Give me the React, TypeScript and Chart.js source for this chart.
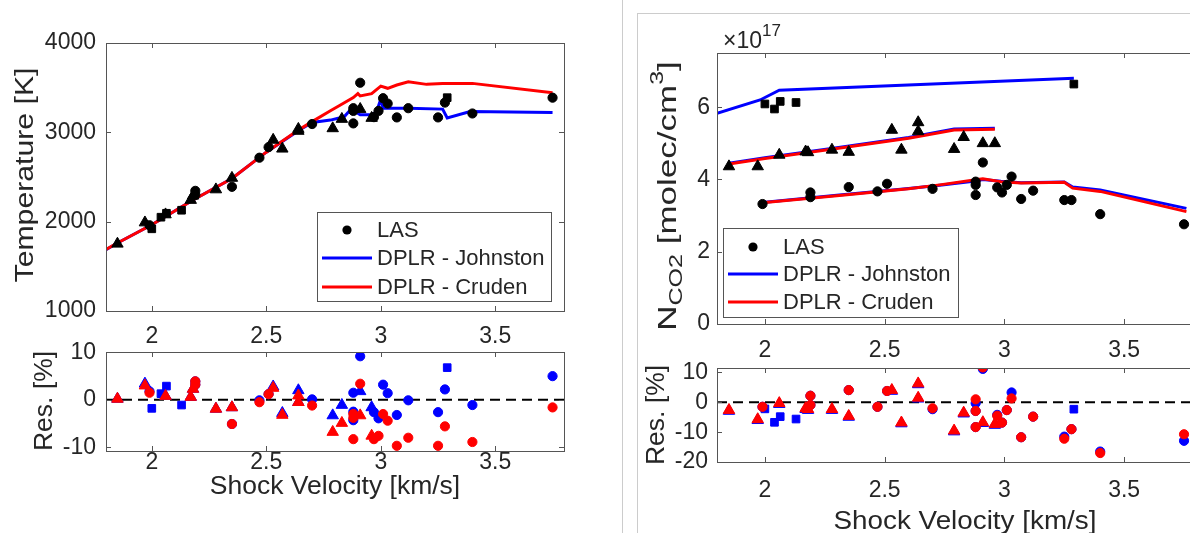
import React, { useEffect, useRef } from "react";
import { Chart, registerables } from "chart.js";
Chart.register(...registerables);

const W = 1210;
const H = 533;
const BLUE = "#0000ff";
const RED = "#ff0000";
const BLACK = "#000000";
const AXIS = "#555555";
const TEXT = "#262626";
const FONT = "'Liberation Sans', Arial, Helvetica, sans-serif";

// ---------- ticks ----------
const xTicks = [2, 2.5, 3, 3.5];
const tempTicks = [1000, 2000, 3000, 4000];
const resTicksLeft = [-10, 0, 10];
const nTicks = [0, 2, 4, 6];
const resTicksRight = [-20, -10, 0, 10];
const legendLabels = ["LAS", "DPLR - Johnston", "DPLR - Cruden"];

// ---------- left: temperature ----------
const circX = [1.99, 2.19, 2.19, 2.35, 2.47, 2.51, 2.70, 2.88, 2.88, 2.88, 2.91, 2.97, 2.99, 3.01, 3.03, 3.07, 3.12, 3.25, 3.28, 3.40, 3.75];
const tCircY = [1960, 2300, 2345, 2390, 2716, 2834, 3093, 3270, 3240, 3100, 3555, 3170, 3240, 3382, 3322, 3167, 3270, 3167, 3333, 3211, 3388];
const triX = [1.85, 1.97, 2.06, 2.17, 2.18, 2.28, 2.35, 2.53, 2.57, 2.64, 2.64, 2.79, 2.83, 2.91, 2.96];
const tTriY = [1752, 1990, 2080, 2242, 2290, 2360, 2489, 2915, 2816, 3037, 3015, 3044, 3149, 3260, 3160];
const sqX = [2.0, 2.04, 2.064, 2.13, 3.29];
const tSqY = [1920, 2050, 2094, 2128, 3388];

const tJohnX = [1.8, 1.85, 2.0, 2.18, 2.35, 2.5, 2.64, 2.70, 2.78, 2.84, 2.87, 2.91, 2.955, 2.98, 3.0, 3.01, 3.12, 3.27, 3.29, 3.39, 3.75];
const tJohnY = [1687, 1761, 1965, 2242, 2483, 2778, 3019, 3111, 3137, 3174, 3260, 3197, 3197, 3222, 3370, 3270, 3270, 3260, 3160, 3233, 3222];
const tCrudX = [1.8, 1.85, 2.0, 2.18, 2.35, 2.5, 2.64, 2.70, 2.78, 2.82, 2.88, 2.90, 2.91, 2.96, 3.0, 3.03, 3.07, 3.12, 3.2, 3.27, 3.40, 3.75];
const tCrudY = [1690, 1761, 1965, 2242, 2483, 2778, 3025, 3120, 3241, 3300, 3389, 3433, 3407, 3433, 3518, 3493, 3530, 3566, 3537, 3548, 3548, 3444];

const rlCircBlue = [1.8, 3.2, 3.9, -5.1, -0.1, 1.2, 0.1, 1.5, -2.5, -4.3, 9.2, -2.6, -3.9, 3.2, 1.4, -3.2, -0.1, -2.6, 2.2, -1.1, 5.0];
const rlCircRed = [1.5, 3.2, 3.9, -5.1, -0.5, 1.2, -1.2, -3.0, -3.8, -8.3, 3.4, -8.3, -7.6, -3.0, -4.4, -9.7, -8.0, -9.7, -5.6, -8.9, -1.6];
const rlTriBlue = [0.2, 3.4, 0.8, 0.6, 2.3, -1.9, -1.6, 2.8, -2.8, 2.0, -0.5, -3.3, -1.1, 1.8, -1.6];
const rlTriRed = [0.2, 3.0, 0.8, 0.6, 2.3, -1.9, -1.6, 2.5, -3.2, 0.9, -0.5, -6.8, -4.9, -3.3, -7.6];
const rlSqBlue = [-1.8, 1.3, 2.9, -1.1, 6.8];

// ---------- right: N_CO2 ----------
const nCircY = [3.32, 3.64, 3.51, 3.79, 3.67, 3.88, 3.74, 3.94, 3.85, 3.57, 4.47, 3.78, 3.64, 3.85, 4.08, 3.46, 3.69, 3.43, 3.43, 3.04, 2.76];
const nTriY = [4.36, 4.36, 4.68, 4.77, 4.75, 4.82, 4.76, 5.37, 4.82, 5.58, 5.33, 4.84, 5.17, 5.0, 5.0];
const nSqY = [6.09, 5.95, 6.16, 6.13, 6.64];

const nSqJohnX = [1.8, 1.98, 2.06, 3.29];
const nSqJohnY = [5.83, 6.2, 6.47, 6.8];
const nTriModelX = [1.85, 2.0, 2.3, 2.6, 2.79, 2.96];
const nTriCrudY = [4.43, 4.58, 4.86, 5.14, 5.37, 5.39];
const nTriJohnY = [4.45, 4.6, 4.88, 5.16, 5.4, 5.42];
const nCircModelX = [2.0, 2.3, 2.6, 2.73, 2.88, 2.91, 2.985, 3.07, 3.25, 3.285, 3.40, 3.76];
const nCircCrudY = [3.36, 3.55, 3.74, 3.85, 3.99, 4.02, 3.94, 3.90, 3.92, 3.76, 3.67, 3.11];
const nCircJohnY = [3.37, 3.56, 3.75, 3.84, 3.96, 4.0, 3.95, 3.91, 3.93, 3.79, 3.71, 3.2];

const rrCircBlue = [-1.5, -0.9, 2.2, 4.1, -1.5, 3.8, -2.3, -0.3, -2.9, -8.3, 11.2, -4.2, -6.8, -2.6, 3.3, -11.7, -4.8, -11.5, -9.0, -16.5, -12.9];
const rrCircRed = [-1.5, -0.9, 2.2, 4.1, -1.5, 3.8, -2.0, 1.0, -2.9, -8.3, 11.7, -4.5, -6.8, -2.6, 1.3, -11.7, -4.8, -12.2, -9.0, -17.0, -10.7];
const rrTriBlue = [-2.9, -6.0, -0.6, -2.3, -2.6, -2.6, -4.9, 3.8, -7.1, 6.0, 1.2, -9.8, -3.8, -7.0, -7.6];
const rrTriRed = [-2.6, -5.7, -0.3, -2.0, -2.3, -2.3, -4.6, 4.1, -6.8, 6.3, 1.5, -9.5, -3.5, -6.7, -7.3];
const rrSqBlue = [-2.2, -6.7, -4.8, -5.6, -2.3];

const zeroX = [1.8, 3.8];
const zeroY = [0, 0];

// ---------- helpers ----------
const zip = (xs: number[], ys: number[]) => xs.map((x, i) => ({ x, y: ys[i] }));

function markerSet(xs: number[], ys: number[], style: string, color: string, order: number) {
  const r = style === "circle" ? 4.6 : style === "triangle" ? 6.6 : 5.4;
  return {
    data: zip(xs, ys),
    pointStyle: style,
    pointRadius: r,
    pointBackgroundColor: color,
    pointBorderColor: color,
    pointBorderWidth: 1,
    showLine: false,
    order,
  };
}

function lineSet(xs: number[], ys: number[], color: string, order: number, dash?: number[]) {
  return {
    data: zip(xs, ys),
    showLine: true,
    borderColor: color,
    borderWidth: dash ? 2 : 3,
    borderDash: dash || [],
    pointRadius: 0,
    tension: 0,
    fill: false,
    order,
  };
}

function drawLabel(ctx: any, text: string, x: number, y: number, size: number, rotate = false, stretch = 1) {
  ctx.save();
  ctx.translate(x, y);
  if (rotate) ctx.rotate(-Math.PI / 2);
  ctx.scale(stretch, 1);
  ctx.font = `${size}px ${FONT}`;
  ctx.fillStyle = TEXT;
  ctx.textAlign = "center";
  ctx.textBaseline = "middle";
  ctx.fillText(text, 0, 0);
  ctx.restore();
}

type Part = { t: string; size: number; dy: number };
function drawRich(ctx: any, cx: number, cy: number, parts: Part[], rotate: boolean, stretch = 1) {
  ctx.save();
  ctx.translate(cx, cy);
  if (rotate) ctx.rotate(-Math.PI / 2);
  ctx.scale(stretch, 1);
  ctx.fillStyle = TEXT;
  ctx.textAlign = "left";
  ctx.textBaseline = "alphabetic";
  const widths = parts.map((p) => {
    ctx.font = `${p.size}px ${FONT}`;
    return ctx.measureText(p.t).width;
  });
  let x = -widths.reduce((a, b) => a + b, 0) / 2;
  parts.forEach((p, i) => {
    ctx.font = `${p.size}px ${FONT}`;
    ctx.fillText(p.t, x, p.dy);
    x += widths[i];
  });
  ctx.restore();
}

type Legend = { x: number; y: number; w: number; h: number; rows: number[]; lineX0: number; lineX1: number; textX: number };
function drawLegend(ctx: any, lg: Legend) {
  ctx.save();
  ctx.fillStyle = "#ffffff";
  ctx.fillRect(lg.x, lg.y, lg.w, lg.h);
  ctx.strokeStyle = AXIS;
  ctx.lineWidth = 1;
  ctx.strokeRect(lg.x + 0.5, lg.y + 0.5, lg.w, lg.h);
  const mid = (lg.lineX0 + lg.lineX1) / 2;
  ctx.fillStyle = BLACK;
  ctx.beginPath();
  ctx.arc(mid, lg.rows[0], 4.6, 0, Math.PI * 2);
  ctx.fill();
  [BLUE, RED].forEach((c, i) => {
    ctx.strokeStyle = c;
    ctx.lineWidth = 3;
    ctx.beginPath();
    ctx.moveTo(lg.lineX0, lg.rows[i + 1]);
    ctx.lineTo(lg.lineX1, lg.rows[i + 1]);
    ctx.stroke();
  });
  ctx.font = `22px ${FONT}`;
  ctx.fillStyle = TEXT;
  ctx.textAlign = "left";
  ctx.textBaseline = "middle";
  legendLabels.forEach((t, i) => ctx.fillText(t, lg.textX, lg.rows[i] + 1));
  ctx.restore();
}

type Panel = {
  id: string;
  area: { l: number; t: number; r: number; b: number };
  yMin: number;
  yMax: number;
  yTicks: number[];
  xPad: number;
  yPad: number;
  datasets: any[];
  legend?: Legend;
  decorate: (ctx: any) => void;
};

const YW = 90;
const XH = 60;
const TICKLEN = 5;

const panels: Panel[] = [
  {
    id: "tl",
    area: { l: 106, t: 43, r: 564, b: 311 },
    yMin: 1000,
    yMax: 4000,
    yTicks: tempTicks,
    xPad: 14,
    yPad: 10,
    datasets: [
      markerSet(circX, tCircY, "circle", BLACK, 0),
      markerSet(triX, tTriY, "triangle", BLACK, 0),
      markerSet(sqX, tSqY, "rect", BLACK, 0),
      lineSet(tCrudX, tCrudY, RED, 1),
      lineSet(tJohnX, tJohnY, BLUE, 2),
    ],
    legend: { x: 317, y: 212, w: 234, h: 89, rows: [230, 258, 287], lineX0: 322, lineX1: 372, textX: 377 },
    decorate: (ctx) => {
      drawLabel(ctx, "Temperature [K]", 26, 175, 26.5, true, 1.14);
    },
  },
  {
    id: "bl",
    area: { l: 106, t: 352, r: 564, b: 451 },
    yMin: -10.8,
    yMax: 10.1,
    yTicks: resTicksLeft,
    xPad: 0,
    yPad: 10,
    datasets: [
      markerSet(circX, rlCircRed, "circle", RED, 0),
      markerSet(triX, rlTriRed, "triangle", RED, 0),
      markerSet(circX, rlCircBlue, "circle", BLUE, 1),
      markerSet(triX, rlTriBlue, "triangle", BLUE, 1),
      markerSet(sqX, rlSqBlue, "rect", BLUE, 1),
      lineSet(zeroX, zeroY, BLACK, 5, [10, 6]),
    ],
    decorate: (ctx) => {
      drawLabel(ctx, "Res. [%]", 45, 401, 26.5, true);
      drawLabel(ctx, "Shock Velocity [km/s]", 335, 487, 26.5);
    },
  },
  {
    id: "tr",
    area: { l: 717, t: 53, r: 1196, b: 324 },
    yMin: 0,
    yMax: 7.5,
    yTicks: nTicks,
    xPad: 15,
    yPad: 7,
    datasets: [
      markerSet(circX, nCircY, "circle", BLACK, 0),
      markerSet(triX, nTriY, "triangle", BLACK, 0),
      markerSet(sqX, nSqY, "rect", BLACK, 0),
      lineSet(nTriModelX, nTriCrudY, RED, 1),
      lineSet(nCircModelX, nCircCrudY, RED, 1),
      lineSet(nSqJohnX, nSqJohnY, BLUE, 2),
      lineSet(nTriModelX, nTriJohnY, BLUE, 2),
      lineSet(nCircModelX, nCircJohnY, BLUE, 2),
    ],
    legend: { x: 723, y: 228, w: 235, h: 89, rows: [247, 274, 302], lineX0: 728, lineX1: 778, textX: 783 },
    decorate: (ctx) => {
      drawRich(
        ctx,
        666,
        196,
        [
          { t: "N", size: 26.5, dy: 9.5 },
          { t: "CO2", size: 19, dy: 16 },
          { t: " [molec/cm", size: 26.5, dy: 9.5 },
          { t: "3", size: 19, dy: -3 },
          { t: "]", size: 26.5, dy: 9.5 },
        ],
        true,
        1.32
      );
      drawRich(
        ctx,
        752,
        40,
        [
          { t: "\u00d710", size: 23, dy: 7.5 },
          { t: "17", size: 17, dy: -4 },
        ],
        false
      );
    },
  },
  {
    id: "br",
    area: { l: 717, t: 368, r: 1196, b: 462 },
    yMin: -20,
    yMax: 11.5,
    yTicks: resTicksRight,
    xPad: 17,
    yPad: 9,
    datasets: [
      markerSet(circX, rrCircRed, "circle", RED, 0),
      markerSet(triX, rrTriRed, "triangle", RED, 0),
      markerSet(circX, rrCircBlue, "circle", BLUE, 1),
      markerSet(triX, rrTriBlue, "triangle", BLUE, 1),
      markerSet(sqX, rrSqBlue, "rect", BLUE, 1),
      lineSet(zeroX, zeroY, BLACK, 5, [10, 6]),
    ],
    decorate: (ctx) => {
      drawLabel(ctx, "Res. [%]", 657, 415, 26.5, true);
      drawLabel(ctx, "Shock Velocity [km/s]", 965, 522, 26.5, false, 1.05);
    },
  },
];

function makeConfig(p: Panel): any {
  const { l, t, r, b } = p.area;
  const deco = {
    id: "deco_" + p.id,
    afterDatasetsDraw(chart: any) {
      const ctx = chart.ctx;
      const xs = chart.scales.x;
      const ys = chart.scales.y;
      ctx.save();
      ctx.strokeStyle = AXIS;
      ctx.lineWidth = 1;
      ctx.strokeRect(l + 0.5, t + 0.5, r - l, b - t);
      ctx.beginPath();
      xTicks.forEach((v) => {
        const px = Math.round(xs.getPixelForValue(v)) + 0.5;
        ctx.moveTo(px, b);
        ctx.lineTo(px, b - TICKLEN);
        ctx.moveTo(px, t);
        ctx.lineTo(px, t + TICKLEN);
      });
      p.yTicks.forEach((v) => {
        const py = Math.round(ys.getPixelForValue(v)) + 0.5;
        ctx.moveTo(l, py);
        ctx.lineTo(l + TICKLEN, py);
        ctx.moveTo(r, py);
        ctx.lineTo(r - TICKLEN, py);
      });
      ctx.stroke();
      ctx.restore();
    },
    afterDraw(chart: any) {
      const ctx = chart.ctx;
      if (p.legend) drawLegend(ctx, p.legend);
      p.decorate(ctx);
    },
  };
  const tickFont = { family: FONT, size: 23, lineHeight: 1 };
  return {
    type: "scatter",
    data: { datasets: p.datasets },
    plugins: [deco],
    options: {
      responsive: false,
      maintainAspectRatio: false,
      animation: false,
      devicePixelRatio: 1,
      events: [],
      layout: { padding: { left: l - YW, top: t, right: W - r, bottom: H - b - XH } },
      plugins: { legend: { display: false }, tooltip: { enabled: false } },
      scales: {
        x: {
          type: "linear",
          min: 1.8,
          max: 3.8,
          afterBuildTicks: (s: any) => {
            s.ticks = xTicks.map((v) => ({ value: v }));
          },
          afterFit: (s: any) => {
            s.height = XH;
          },
          grid: { display: false, drawTicks: false },
          border: { display: false },
          ticks: { font: tickFont, color: TEXT, padding: p.xPad, maxRotation: 0, autoSkip: false, callback: (v: any) => String(v) },
        },
        y: {
          type: "linear",
          min: p.yMin,
          max: p.yMax,
          afterBuildTicks: (s: any) => {
            s.ticks = p.yTicks.map((v) => ({ value: v }));
          },
          afterFit: (s: any) => {
            s.width = YW;
          },
          grid: { display: false, drawTicks: false },
          border: { display: false },
          ticks: { font: tickFont, color: TEXT, padding: p.yPad, autoSkip: false, callback: (v: any) => String(v) },
        },
      },
    },
  };
}

function ChartPanel({ panel }: { panel: Panel }) {
  const ref = useRef<HTMLCanvasElement | null>(null);
  useEffect(() => {
    if (!ref.current) return;
    const chart = new Chart(ref.current, makeConfig(panel));
    return () => chart.destroy();
  }, [panel]);
  return <canvas ref={ref} width={W} height={H} style={{ position: "absolute", left: 0, top: 0, width: W, height: H }} />;
}

export default function App() {
  return (
    <div style={{ position: "absolute", left: 0, top: 0, width: 1190, height: 533, overflow: "hidden", background: "#ffffff" }}>
      <div style={{ position: "absolute", left: 622, top: 0, width: 1, height: 533, background: "#cccccc" }} />
      <div style={{ position: "absolute", left: 637, top: 13, width: 1, height: 520, background: "#cccccc" }} />
      <div style={{ position: "absolute", left: 637, top: 13, width: 553, height: 1, background: "#cccccc" }} />
      {panels.map((p) => (
        <ChartPanel key={p.id} panel={p} />
      ))}
    </div>
  );
}
